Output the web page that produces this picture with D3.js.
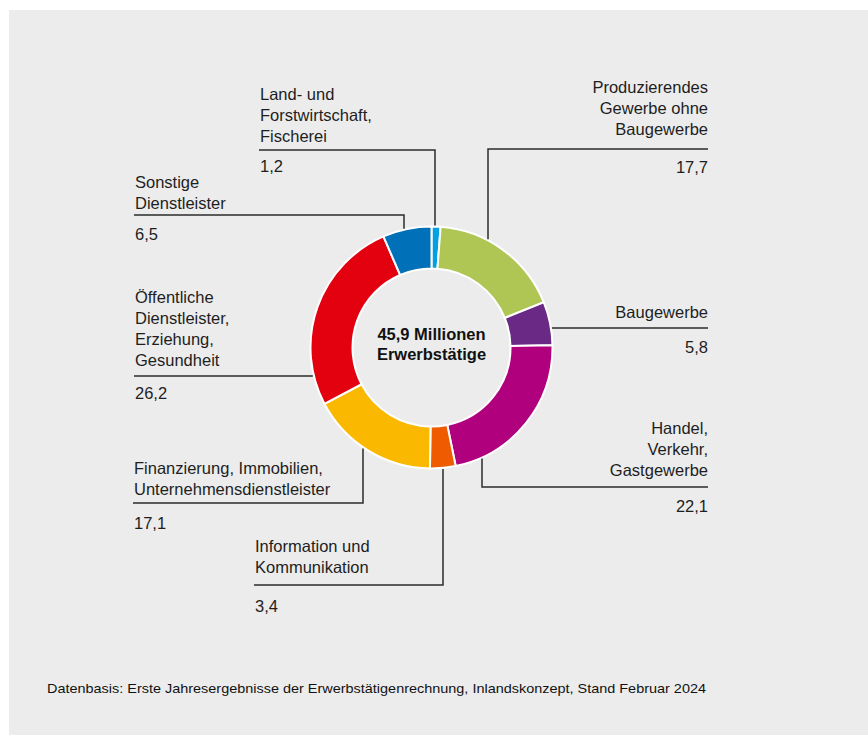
<!DOCTYPE html>
<html>
<head>
<meta charset="utf-8">
<script src="https://cdn.jsdelivr.net/npm/d3@7"></script>
<style>
  html, body { margin: 0; padding: 0; background: #fff; }
  svg { display: block; }
</style>
</head>
<body>
<div id="chart"></div>
<script>
// Erwerbstätige nach Wirtschaftsbereichen, Anteile in %
const categories = [
  'Land- und Forstwirtschaft, Fischerei',
  'Produzierendes Gewerbe ohne Baugewerbe',
  'Baugewerbe',
  'Handel, Verkehr, Gastgewerbe',
  'Information und Kommunikation',
  'Finanzierung, Immobilien, Unternehmensdienstleister',
  'Öffentliche Dienstleister, Erziehung, Gesundheit',
  'Sonstige Dienstleister'
];
const values = [1.2, 17.7, 5.8, 22.1, 3.4, 17.1, 26.2, 6.5];
const valueLabels = ['1,2', '17,7', '5,8', '22,1', '3,4', '17,1', '26,2', '6,5'];
const labelLines = [
  ['Land- und', 'Forstwirtschaft,', 'Fischerei'],
  ['Produzierendes', 'Gewerbe ohne', 'Baugewerbe'],
  ['Baugewerbe'],
  ['Handel,', 'Verkehr,', 'Gastgewerbe'],
  ['Information und', 'Kommunikation'],
  ['Finanzierung, Immobilien,', 'Unternehmensdienstleister'],
  ['Öffentliche', 'Dienstleister,', 'Erziehung,', 'Gesundheit'],
  ['Sonstige', 'Dienstleister']
];
const colors = ['#00a0e2', '#afc655', '#6a2984', '#b0007e', '#ee5b00', '#fbb800', '#e3000f', '#0070b9'];
const centerText = ['45,9 Millionen', 'Erwerbstätige'];
const footnote = 'Datenbasis: Erste Jahresergebnisse der Erwerbstätigenrechnung, Inlandskonzept, Stand Februar 2024';

// label placement (layout only)
// x: text anchor x, y: first baseline, ly: rule y, lx: other end of the rule,
// conn: 'down'/'up' = vertical to ring at lx, 'ring' = rule runs to the ring
const layout = [
  { x: 260, anchor: 'start', y: 100, ly: 150, lx: 435, conn: 'down', vy: 172 },
  { x: 708, anchor: 'end',   y: 93,  ly: 149, lx: 488, conn: 'down', vy: 173 },
  { x: 708, anchor: 'end',   y: 318, ly: 328, conn: 'ring', vy: 353 },
  { x: 708, anchor: 'end',   y: 434, ly: 487, lx: 482, conn: 'up', vy: 512 },
  { x: 255, anchor: 'start', y: 552, ly: 585, lx: 443, conn: 'up', vy: 612 },
  { x: 134, anchor: 'start', y: 474, ly: 503, lx: 363, conn: 'up', vy: 529 },
  { x: 135, anchor: 'start', y: 303, ly: 376, conn: 'ring', vy: 399 },
  { x: 135, anchor: 'start', y: 188, ly: 215, lx: 404, conn: 'down', vy: 240 }
];

const W = 868, H = 736;
const cx = 431.5, cy = 347.5, R = 121, r0 = 79;
const lineH = 21;
const font = '"Liberation Sans", Arial, Helvetica, sans-serif';

const svg = d3.select('#chart').append('svg')
  .attr('width', W)
  .attr('height', H);

svg.append('rect')
  .attr('x', 9).attr('y', 10)
  .attr('width', W - 9).attr('height', H - 11)
  .attr('fill', '#ececec');

const data = categories.map((c, i) => ({ name: c, value: values[i], i }));

const pie = d3.pie().value(d => d.value).sort(null);
const arc = d3.arc().innerRadius(r0).outerRadius(R);

const g = svg.append('g').attr('transform', `translate(${cx},${cy})`);

g.selectAll('path')
  .data(pie(data))
  .join('path')
  .attr('d', arc)
  .attr('fill', d => colors[d.data.i])
  .attr('stroke', '#fff')
  .attr('stroke-width', 2);

g.selectAll('text.center')
  .data(centerText)
  .join('text')
  .attr('class', 'center')
  .attr('x', 0)
  .attr('y', (d, i) => -7.5 + i * 20)
  .attr('text-anchor', 'middle')
  .attr('font-family', font)
  .attr('font-weight', 'bold')
  .attr('font-size', 16.5)
  .attr('fill', '#111')
  .text(d => d);

// leader lines
const edge = R + 1;
const pathFor = (L) => {
  if (L.conn === 'ring') {
    const dx = Math.sqrt(edge * edge - (L.ly - cy) * (L.ly - cy));
    const ex = L.anchor === 'end' ? cx + dx : cx - dx;
    const x0 = L.anchor === 'end' ? L.x : L.x - 1;
    return d3.line()([[x0, L.ly], [ex, L.ly]]);
  }
  const dy = Math.sqrt(edge * edge - (L.lx - cx) * (L.lx - cx));
  const ey = L.conn === 'down' ? cy - dy : cy + dy;
  const x0 = L.anchor === 'end' ? L.x : L.x - 1;
  return d3.line()([[x0, L.ly], [L.lx, L.ly], [L.lx, ey]]);
};

svg.append('g').selectAll('path')
  .data(layout)
  .join('path')
  .attr('d', pathFor)
  .attr('fill', 'none')
  .attr('stroke', '#2b2b2b')
  .attr('stroke-width', 1.5);

// labels
const lab = svg.append('g')
  .attr('font-family', font)
  .attr('font-size', 16.5)
  .attr('fill', '#1e1e1e');

labelLines.forEach((lines, i) => {
  const L = layout[i];
  lab.append('text')
    .attr('text-anchor', L.anchor)
    .selectAll('tspan')
    .data(lines)
    .join('tspan')
    .attr('x', L.x)
    .attr('y', (d, k) => L.y + k * lineH)
    .text(d => d);
  lab.append('text')
    .attr('text-anchor', L.anchor)
    .attr('x', L.x)
    .attr('y', L.vy)
    .text(valueLabels[i]);
});

svg.append('text')
  .attr('x', 47)
  .attr('y', 693)
  .attr('font-family', font)
  .attr('font-size', 13.5)
  .attr('fill', '#111')
  .attr('textLength', 659)
  .attr('lengthAdjust', 'spacingAndGlyphs')
  .text(footnote);
</script>
</body>
</html>
